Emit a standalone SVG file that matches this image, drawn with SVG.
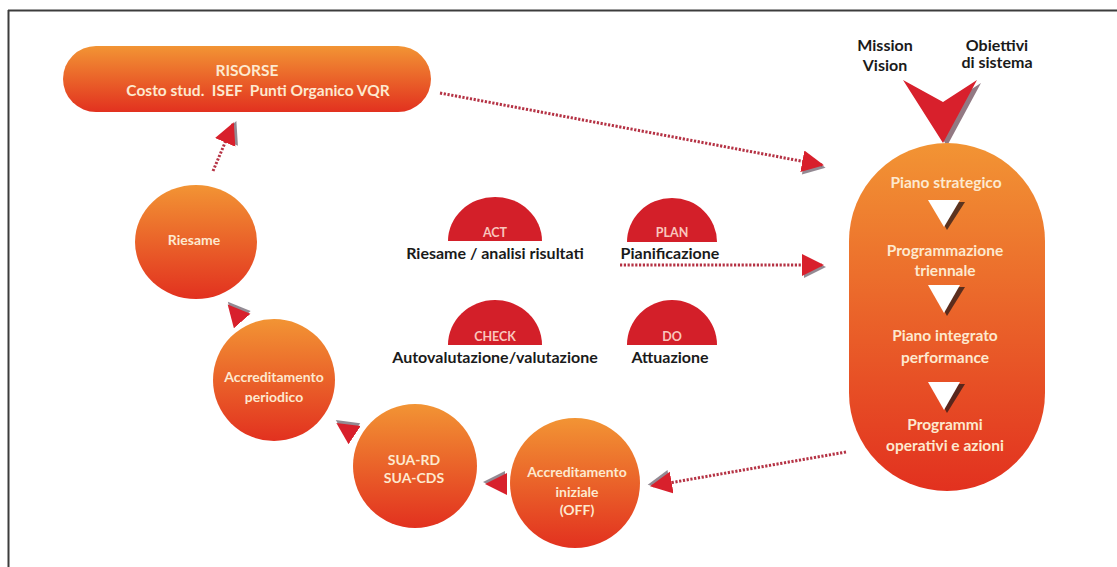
<svg xmlns="http://www.w3.org/2000/svg" width="1117" height="567" viewBox="0 0 1117 567">
<style>
.lbl{font-family:Lato,"Open Sans","Liberation Sans",sans-serif;font-weight:700;text-anchor:middle}
.wt{fill:#fde9cf}
.bk{fill:#1a1a1a;font-size:16px}
.dome{fill:#d31f29}
.dt{fill:#f9c6bd;font-size:12.5px}
.ct{font-size:14px}
.pt{font-size:15.5px}
.dot{fill:none;stroke:#b53244;stroke-width:3;stroke-dasharray:2.2 1.6}
.head{fill:none;stroke:none}
.tri{fill:#ffffff}
.tris{fill:#2a1a1a;opacity:.75}
</style>
<defs>
<linearGradient id="og" x1="0" y1="0" x2="0" y2="1">
<stop offset="0" stop-color="#f29434"/>
<stop offset="1" stop-color="#e2311f"/>
</linearGradient>
<marker id="ah" markerUnits="userSpaceOnUse" markerWidth="30" markerHeight="30" refX="20" refY="11" orient="auto" viewBox="0 0 30 30">
<path d="M2,2 L24,13 L2,24 z" fill="#3a2a3a" opacity="0.55"/>
<path d="M0,0 L22,11 L0,22 z" fill="#d8202c"/>
</marker>
</defs>
<rect width="1117" height="567" fill="#ffffff"/>
<path d="M8,10.5 H1117 M8.5,10 V567" stroke="#3c3c3c" stroke-width="2" fill="none"/>

<g id="connectors">
<path class="dot" d="M440,93 L822,165" marker-end="url(#ah)"/>
<path class="dot" d="M620,265 L822,265" marker-end="url(#ah)"/>
<path class="dot" d="M846,452 L652,486" marker-end="url(#ah)"/>
<path class="dot" d="M213,171 L233,124" marker-end="url(#ah)"/>
<path class="head" d="M250,330 L229,306" marker-end="url(#ah)"/>
<path class="head" d="M362,440 L338,424" marker-end="url(#ah)"/>
<path class="head" d="M510,484 L487,484" marker-end="url(#ah)"/>
</g>

<g id="risorse">
<rect x="63" y="46" width="368" height="66" rx="33" fill="url(#og)"/>
<text class="lbl wt" x="247" y="75.5" font-size="15.5">RISORSE</text>
<text class="lbl wt" x="258" y="96" font-size="15.5" xml:space="preserve">Costo stud.  ISEF  Punti Organico VQR</text>
</g>

<g id="mission">
<text class="lbl bk" x="885" y="50.5">Mission</text>
<text class="lbl bk" x="885" y="70.5">Vision</text>
</g>
<g id="obiettivi">
<text class="lbl bk" x="997" y="50.5">Obiettivi</text>
<text class="lbl bk" x="997" y="67.5">di sistema</text>
</g>
<g id="chevron">
<polygon points="907,83 947,105 981,83 947,146" fill="#4a2030" opacity="0.6"/>
<polygon points="903,80 943,102 977,80 943,143" fill="#d8202c"/>
</g>

<g id="piano">
<rect x="849" y="143" width="196" height="348" rx="98" fill="url(#og)"/>
<text class="lbl wt pt" x="946" y="187.5">Piano strategico</text>
<polygon class="tris" points="931,202 965,202 947,230"/>
<polygon class="tri" points="928,200 960,200 944,227"/>
<text class="lbl wt pt" x="945" y="255.5">Programmazione</text>
<text class="lbl wt pt" x="945" y="275.5">triennale</text>
<polygon class="tris" points="931,287 965,287 947,316"/>
<polygon class="tri" points="928,285 960,285 944,313"/>
<text class="lbl wt pt" x="945" y="340.5">Piano integrato</text>
<text class="lbl wt pt" x="945" y="362.5">performance</text>
<polygon class="tris" points="931,384 965,384 947,413"/>
<polygon class="tri" points="928,382 960,382 944,410"/>
<text class="lbl wt pt" x="945" y="429.5">Programmi</text>
<text class="lbl wt pt" x="945" y="450.5">operativi e azioni</text>
</g>

<g id="act">
<path class="dome" d="M448,241 A47,44 0 0 1 542,241 z"/>
<text class="lbl dt" x="495" y="237">ACT</text>
<text class="lbl bk" x="495" y="258.5">Riesame / analisi risultati</text>
</g>
<g id="plan">
<path class="dome" d="M627,242 A45,44 0 0 1 717,242 z"/>
<text class="lbl dt" x="672" y="237">PLAN</text>
<text class="lbl bk" x="670" y="258.5">Pianificazione</text>
</g>
<g id="check">
<path class="dome" d="M448,345 A47,45 0 0 1 542,345 z"/>
<text class="lbl dt" x="495" y="341">CHECK</text>
<text class="lbl bk" x="495" y="362.5">Autovalutazione/valutazione</text>
</g>
<g id="do">
<path class="dome" d="M627,345 A45,45 0 0 1 717,345 z"/>
<text class="lbl dt" x="672" y="341">DO</text>
<text class="lbl bk" x="670" y="362.5">Attuazione</text>
</g>

<g id="riesame">
<ellipse cx="196" cy="242" rx="61" ry="57" fill="url(#og)"/>
<text class="lbl wt ct" x="194" y="245">Riesame</text>
</g>
<g id="accr-periodico">
<circle cx="274" cy="380" r="61" fill="url(#og)"/>
<text class="lbl wt ct" x="274" y="382">Accreditamento</text>
<text class="lbl wt ct" x="274" y="402">periodico</text>
</g>
<g id="sua">
<circle cx="415" cy="466" r="62" fill="url(#og)"/>
<text class="lbl wt ct" x="414" y="465">SUA-RD</text>
<text class="lbl wt ct" x="414" y="483">SUA-CDS</text>
</g>
<g id="accr-iniziale">
<circle cx="575" cy="483" r="65" fill="url(#og)"/>
<text class="lbl wt ct" x="577" y="477">Accreditamento</text>
<text class="lbl wt ct" x="577" y="497">iniziale</text>
<text class="lbl wt ct" x="577" y="515">(OFF)</text>
</g>
</svg>
